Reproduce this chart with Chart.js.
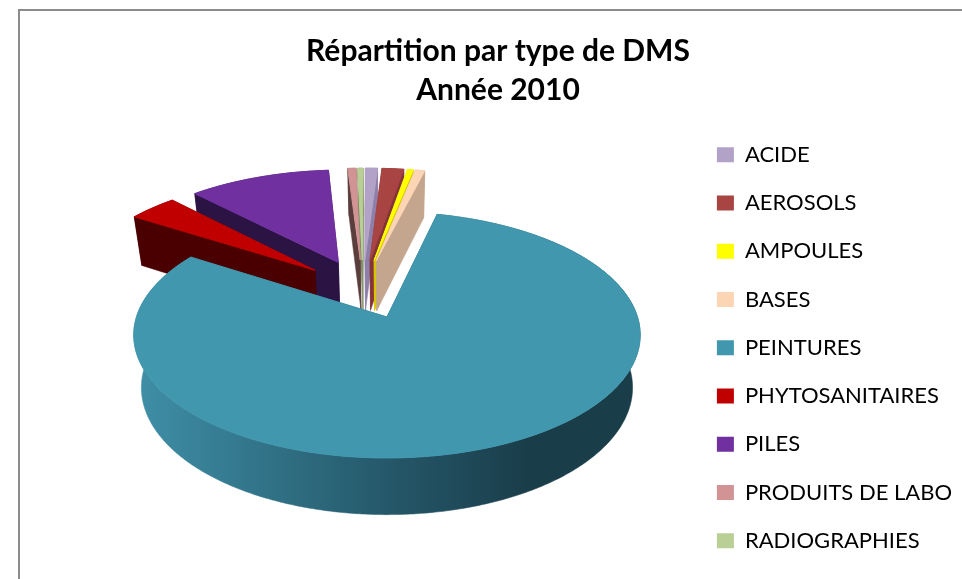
<!DOCTYPE html>
<html><head><meta charset="utf-8">
<style>html,body{margin:0;padding:0;background:#fff}#wrap{width:962px;height:579px}</style>
<script src="https://cdn.jsdelivr.net/npm/chart.js@4/dist/chart.umd.min.js"></script>
</head><body><div id="wrap"><canvas id="c" width="962" height="579"></canvas></div>
<script>
const categories = ["ACIDE","AEROSOLS","AMPOULES","BASES","PEINTURES","PHYTOSANITAIRES","PILES","PRODUITS DE LABO","RADIOGRAPHIES"];
const shares = [0.94,1.70,0.45,0.75,80.33,3.78,11.0,0.63,0.42];
const topColors = ["#B3A2C7","#A84442","#FFFF00","#FCD5B5","#4197AE","#C00000","#7030A0","#D19393","#B9CF95"];
const wallColors = ["#8D7FA8","#85343A","#D9C800","#C4A68E","#1B4250","#4A0000","#2B1343","#5A3D3D","#7F8C63"];
const titleLines = ["Répartition par type de DMS","Année 2010"];

const view = {x0:387,y0:317,a:250.5,b:120.4,p:0.146,shrink:0.97,drop:52,gx:-0.0998,gy:-0.2445,explode:0.264};
function project(u,v,low){
  const w=1-view.p*v, s=low?view.shrink:1;
  return [view.x0+s*view.a*u/w, view.y0+s*view.b*v/w+(low?view.drop/w:0)];
}
const pie3d={
  id:'pie3d',
  beforeDraw(chart){
    const c=chart.ctx;
    c.save();c.strokeStyle='#8C8C8C';c.lineWidth=2;c.beginPath();
    c.moveTo(19,579);c.lineTo(19,10);c.lineTo(962,10);c.stroke();c.restore();
  },
  beforeDatasetDraw(chart,args){
    const c=chart.ctx, arcs=chart.getDatasetMeta(args.index).data;
    const order=arcs.map((el,i)=>({el,i,mid:(el.startAngle+el.endAngle)/2}))
      .sort((p,q)=>Math.sin(p.mid)-Math.sin(q.mid));
    for(const {el,i,mid} of order){
      const ox=view.gx+view.explode*Math.cos(mid), oy=view.gy+view.explode*Math.sin(mid);
      const ring=[];
      const n=Math.max(2,Math.ceil((el.endAngle-el.startAngle)/0.01));
      for(let k=0;k<=n;k++){
        const a=el.startAngle+(el.endAngle-el.startAngle)*k/n;
        ring.push([ox+Math.cos(a),oy+Math.sin(a)]);
      }
      const path=(pts)=>{c.beginPath();pts.forEach((p,j)=>j?c.lineTo(p[0],p[1]):c.moveTo(p[0],p[1]));c.closePath();};
      let wall=wallColors[i];
      if(categories[i]==='PEINTURES'){
        const g=c.createLinearGradient(132,0,640,0);
        g.addColorStop(0,'#3F90A8');g.addColorStop(0.5,'#25586A');g.addColorStop(0.78,'#1A3D4A');g.addColorStop(1,'#1A3D4A');
        wall=g;
      }
      c.fillStyle=wall;c.strokeStyle=wall;c.lineWidth=0.5;
      path([[ox,oy],ring[0]].map(p=>project(p[0],p[1],false)).concat([ring[0],[ox,oy]].map(p=>project(p[0],p[1],true))));c.fill();c.stroke();
      path([[ox,oy],ring[n]].map(p=>project(p[0],p[1],false)).concat([ring[n],[ox,oy]].map(p=>project(p[0],p[1],true))));c.fill();c.stroke();
      path(ring.map(p=>project(p[0],p[1],false)).concat(ring.slice().reverse().map(p=>project(p[0],p[1],true))));c.fill();c.stroke();
      c.fillStyle=topColors[i];c.strokeStyle=topColors[i];c.lineWidth=1;
      path([[ox,oy]].concat(ring).map(p=>project(p[0],p[1],false)));c.fill();c.stroke();
    }
    return false;
  }
};
new Chart(document.getElementById('c'),{
  type:'pie',
  data:{labels:categories,datasets:[{data:shares,backgroundColor:topColors,borderWidth:0}]},
  options:{
    responsive:false,animation:false,rotation:-0.6,
    layout:{padding:{left:34,right:0,top:32,bottom:0}},
    plugins:{
      tooltip:{enabled:false},
      title:{display:true,text:titleLines,color:'#000',font:{family:'Lato',size:30,weight:'bold',lineHeight:1.3},padding:{top:0,bottom:7.5}},
      legend:{position:'right',align:'start',fullSize:false,labels:{color:'#000',font:{family:'Lato',size:22},boxWidth:17,boxHeight:15,padding:26.25}}
    }
  },
  plugins:[pie3d]
});
</script></body></html>
